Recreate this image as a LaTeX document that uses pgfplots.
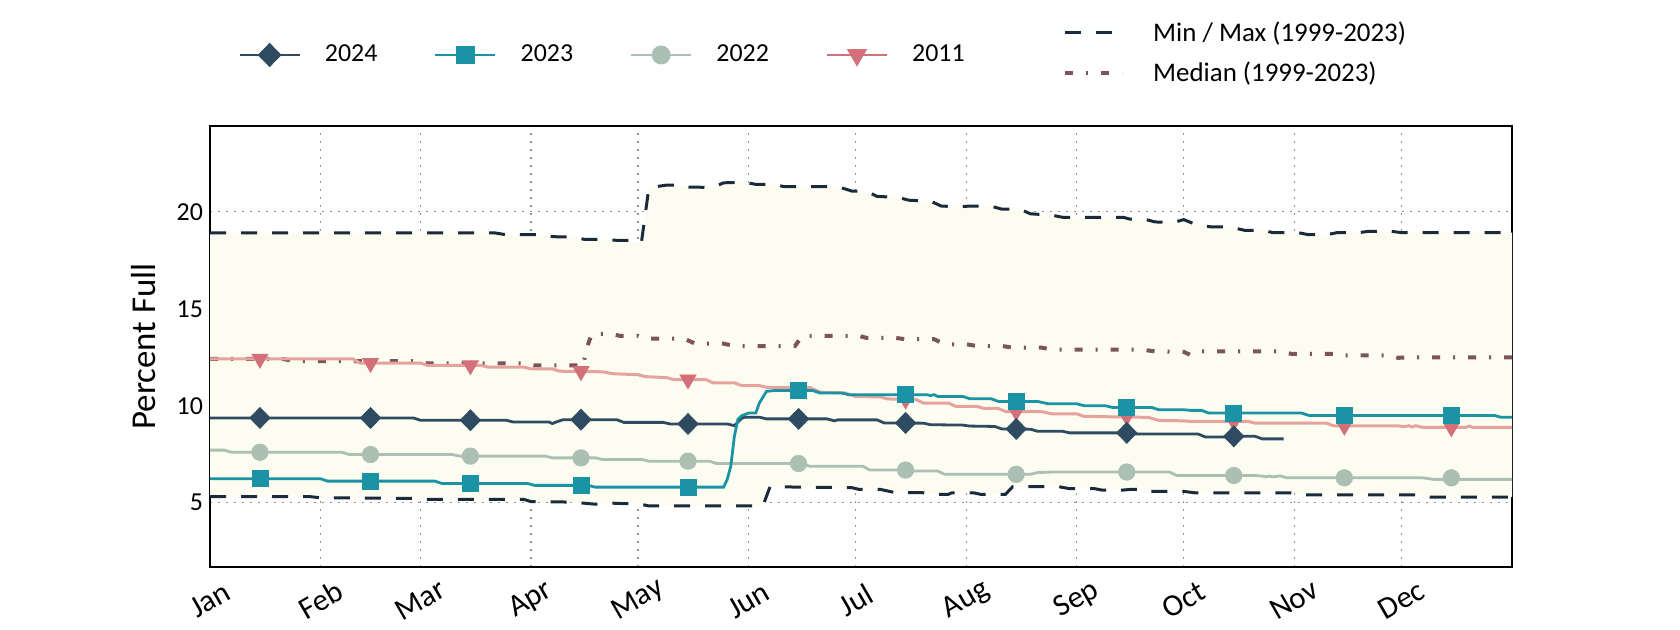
\documentclass[border=0pt]{standalone}
\usepackage{fontspec}
\setmainfont{Carlito}
\usepackage{pgfplots}
\pgfplotsset{compat=1.18}
\usepgfplotslibrary{fillbetween}
\definecolor{cMax}{HTML}{1B2A3A}
\definecolor{cMed}{HTML}{7B545C}
\definecolor{cA}{HTML}{2E4B62}
\definecolor{cB}{HTML}{1A93A5}
\definecolor{cC}{HTML}{ABBFB3}
\definecolor{cDl}{HTML}{E6A39E}
\definecolor{cDm}{HTML}{D4707A}
\definecolor{cFill}{HTML}{FCFCF1}
\begin{document}
\begin{tikzpicture}
\pgfplotsset{
  every axis/.append style={
    width=651bp, height=220.5bp, scale only axis,
    xmin=0, xmax=365, ymin=1.68, ymax=24.43,
  },
  yrlegend/.style={
    legend image code/.code={\draw[mark repeat=2,mark phase=2,##1] plot coordinates {(0bp,0bp) (15bp,0bp) (30bp,0bp)};}
  },
  mmlegend/.style={
    legend image code/.code={\draw[##1] (0bp,0bp) -- (28.5bp,0bp);}
  },
}
\begin{axis}[name=ax, set layers,
  xtick={0,31,59,90,120,151,181,212,243,273,304,334},
  xticklabels={Jan,Feb,Mar,Apr,May,Jun,Jul,Aug,Sep,Oct,Nov,Dec},
  ytick={5,10,15,20},
  grid=major,
  grid style={gray!85, line width=0.6bp, dash pattern=on 0.8bp off 3.2bp},
  major tick length=0pt,
  axis line style={line width=1.2bp, black},
  /pgf/number format/assume math mode=true,
  tick label style={font=\fontsize{13}{15}\selectfont},
  xticklabel style={font=\fontsize{15.5}{17}\selectfont, anchor=center, yshift=-16.5bp, rotate=30},
  ylabel={Percent Full},
  ylabel style={font=\fontsize{17.5}{19}\selectfont, at={(axis description cs:-0.051,0.5)}, anchor=center},
  yrlegend,
  legend columns=4,
  legend style={draw=none, fill=none, inner sep=0pt, at={(0.0215,1.161)}, anchor=west,
    font=\fontsize{13}{15}\selectfont,
    /tikz/every odd column/.append style={column sep=10bp},
    /tikz/every even column/.append style={column sep=26.4bp}},
]
\addlegendimage{color=cA, line width=1.25bp, mark=diamond*, mark size=5.2bp, mark options={solid, fill=cA, xscale=1.3}}
\addlegendentry{2024}
\addlegendimage{color=cB, line width=1.25bp, mark=square*, mark size=4bp, mark options={solid, fill=cB}}
\addlegendentry{2023}
\addlegendimage{color=cC, line width=1.25bp, mark=*, mark size=4.1bp, mark options={solid, fill=cC}}
\addlegendentry{2022}
\addlegendimage{color=cDm, line width=1.25bp, mark=triangle*, mark size=4.6bp, mark options={solid, fill=cDm, rotate=180}}
\addlegendentry{2011}

% max
\addplot[name path=maxp, color=cMax, line width=1.5bp, dash pattern=on 8bp off 7.5bp, forget plot] coordinates {
(0,18.91) (80,18.91) (83,18.82) (93,18.82) (96,18.72) (102,18.70) (105,18.58) (111,18.58) (114,18.53) (118,18.53) (119.5,18.36) (121,18.5) (123,21.2) (125,21.3) (128,21.38) (132,21.38) (134,21.28) (141,21.26) (144,21.5) (150,21.52) (153,21.42) (158,21.42) (161,21.3) (176,21.3) (180,21.07) (184,21.07) (187,20.8) (193,20.74) (196,20.6) (202,20.55) (205,20.3) (210,20.26) (213,20.3) (219,20.29) (222,20.14) (227,20.14) (230,19.9) (236,19.83) (239,19.72) (256,19.72) (258,19.62) (262,19.62) (265,19.48) (270,19.45) (273,19.6) (277,19.3) (281,19.22) (286,19.22) (290,19.05) (295,19.05) (298,18.93) (305,18.93) (308,18.82) (313,18.82) (316,18.93) (322,18.93) (325,19.0) (331,19.0) (334,18.93) (365,18.93)};
% min
\addplot[name path=minp, color=cMax, line width=1.5bp, dash pattern=on 8bp off 7.5bp, forget plot] coordinates {
(0,5.31) (28,5.31) (31,5.25) (57,5.22) (60,5.17) (88,5.17) (90,5.05) (101,5.03) (105,4.97) (108,4.92) (110,4.97) (113,4.97) (116,4.95) (120,4.95) (123,4.83) (155,4.83) (157,5.82) (180,5.77) (182,5.68) (188,5.68) (192,5.52) (200,5.51) (202,5.43) (207,5.43) (208,5.51) (214,5.51) (216,5.43) (223,5.43) (225,5.82) (238,5.82) (241,5.72) (248,5.72) (250,5.65) (256,5.65) (258,5.68) (262,5.68) (263,5.58) (273,5.58) (276,5.51) (304,5.51) (306,5.4) (340,5.4) (342,5.29) (365,5.29)};
\addplot[fill=cFill, draw=none, on layer=axis background, forget plot] fill between[of=maxp and minp];
% median
\addplot[color=cMed, line width=2bp, dash pattern=on 4bp off 6.5bp on 1bp off 6.5bp, forget plot] coordinates {
(0,12.42) (20,12.42) (24,12.3) (58,12.3) (61,12.18) (88,12.18) (91,12.08) (103,12.08) (104.5,12.0) (105.5,12.9) (107,13.7) (112,13.72) (115,13.6) (120,13.6) (122,13.46) (133,13.46) (136,13.2) (144,13.2) (147,13.08) (164,13.08) (166,13.6) (182,13.6) (184,13.5) (192,13.5) (195,13.43) (203,13.43) (206,13.17) (212,13.17) (215,13.08) (222,13.08) (225,13.0) (233,13.0) (236,12.9) (261,12.9) (265,12.8) (273,12.78) (275,12.6) (278,12.8) (300,12.8) (303,12.68) (315,12.68) (318,12.6) (331,12.6) (333,12.47) (336,12.5) (365,12.5)};
% 2022
\addplot[color=cC, line width=1.4bp, forget plot] coordinates {
(0,7.71) (4,7.71) (6,7.6) (37,7.6) (39,7.48) (68,7.48) (70,7.4) (94,7.4) (96,7.31) (108,7.31) (110,7.23) (121,7.23) (123,7.14) (140,7.14) (142,7.02) (166,7.02) (168,6.88) (183,6.88) (185,6.68) (195,6.68) (197,6.63) (204,6.63) (206,6.46) (230,6.46) (232,6.55) (236,6.58) (269,6.58) (271,6.4) (293,6.4) (295,6.37) (296,6.33) (297,6.37) (298,6.33) (300,6.38) (302,6.28) (340,6.28) (343,6.2) (365,6.2)};
% 2011
\addplot[color=cDl, line width=1.5bp, forget plot] coordinates {
(0,12.42) (40,12.42) (42,12.2) (59,12.2) (61,12.08) (76,12.08) (78,11.99) (88,11.99) (90,11.9) (96,11.9) (98,11.78) (110,11.75) (113,11.65) (120,11.6) (122,11.5) (128,11.45) (130,11.35) (139,11.35) (141,11.18) (147,11.18) (149,11.04) (154,11.04) (156,10.95) (168,10.95) (171,10.7) (178,10.66) (181,10.48) (188,10.45) (190,10.35) (198,10.31) (200,10.14) (207,10.14) (209,9.97) (215,9.97) (217,9.86) (221,9.86) (223,9.7) (233,9.7) (236,9.58) (243,9.58) (245,9.45) (263,9.4) (266,9.24) (273,9.22) (275,9.19) (291,9.19) (293,9.1) (313,9.1) (315,8.96) (333,8.96) (335,8.92) (336,8.97) (337,8.9) (338,8.97) (340,8.88) (352,8.88) (353,8.95) (354,8.88) (365,8.88)};
% 2024
\addplot[color=cA, line width=1.4bp, forget plot] coordinates {
(0,9.37) (57,9.37) (59,9.25) (83,9.25) (85,9.16) (95,9.16) (96,9.08) (97,9.16) (99,9.28) (114,9.28) (116,9.14) (127,9.14) (129,9.06) (145,9.06) (147,8.97) (149,9.35) (150,9.41) (154,9.41) (156,9.32) (173,9.32) (175,9.22) (176,9.27) (187,9.27) (189,9.11) (200,9.1) (202,9.02) (211,9.0) (213,8.95) (220,8.93) (222,8.8) (230,8.79) (232,8.68) (239,8.68) (241,8.6) (257,8.6) (259,8.54) (277,8.54) (279,8.39) (286,8.39) (288,8.42) (293,8.42) (295,8.29) (301,8.29)};
% 2023
\addplot[color=cB, line width=1.4bp, forget plot] coordinates {
(0,6.23) (31,6.23) (33,6.11) (63,6.11) (65,5.99) (89,5.99) (91,5.89) (106,5.89) (108,5.8) (144,5.8) (145,6.2) (146,6.88) (147,8.42) (148,9.3) (149,9.48) (151,9.62) (153,9.62) (154,10.14) (156,10.74) (158,10.78) (169,10.78) (171,10.66) (177,10.66) (179,10.57) (201,10.57) (202,10.52) (203,10.57) (204,10.48) (211,10.48) (213,10.36) (219,10.36) (221,10.22) (232,10.22) (235,10.1) (243,10.1) (245,10.0) (251,10.0) (253,9.91) (264,9.91) (266,9.79) (273,9.79) (275,9.76) (278,9.76) (280,9.62) (306,9.62) (308,9.5) (360,9.5) (362,9.4) (365,9.4)};
% markers
\addplot[only marks, mark=*, mark size=4.1bp, color=cC, fill=cC, forget plot] coordinates {
(14,7.6) (45,7.48) (73,7.4) (104,7.31) (134,7.14) (165,7.02) (195,6.68) (226,6.46) (257,6.58) (287,6.4) (318,6.28) (348,6.28)};
\addplot[only marks, mark=triangle*, mark size=4.6bp, mark options={rotate=180}, color=cDm, fill=cDm, forget plot] coordinates {
(14,12.42) (45,12.2) (73,12.08) (104,11.78) (134,11.35) (165,10.95) (195,10.31) (226,9.7) (257,9.45) (287,9.19) (318,8.96) (348,8.88)};
\addplot[only marks, mark=square*, mark size=4bp, color=cB, fill=cB, forget plot] coordinates {
(14,6.23) (45,6.11) (73,5.99) (104,5.89) (134,5.8) (165,10.78) (195,10.57) (226,10.22) (257,9.91) (287,9.62) (318,9.5) (348,9.5)};
\addplot[only marks, mark=diamond*, mark size=5.2bp, mark options={xscale=1.3}, color=cA, fill=cA, forget plot] coordinates {
(14,9.37) (45,9.37) (73,9.25) (104,9.28) (134,9.06) (165,9.32) (195,9.11) (226,8.8) (257,8.6) (287,8.42)};
\end{axis}
\begin{axis}[hide axis, mmlegend,
  legend cell align=left,
  legend style={draw=none, fill=none, inner sep=0pt, at={(0.655,1.1655)}, anchor=west,
    font=\fontsize{13.5}{15}\selectfont, row sep=5bp,
    /tikz/every odd column/.append style={column sep=12.5bp}},
]
\addlegendimage{color=cMax, line width=1.5bp, dash pattern=on 8bp off 7.5bp}
\addlegendentry{Min / Max (1999-2023)}
\addlegendimage{color=cMed, line width=2bp, dash pattern=on 4bp off 6.5bp on 1bp off 6.5bp}
\addlegendentry{Median (1999-2023)}
\end{axis}
\pgfresetboundingbox
\path[use as bounding box] ([xshift=-105bp,yshift=-31.5bp]ax.south west) rectangle ([xshift=84bp,yshift=63bp]ax.north east);
\end{tikzpicture}
\end{document}
